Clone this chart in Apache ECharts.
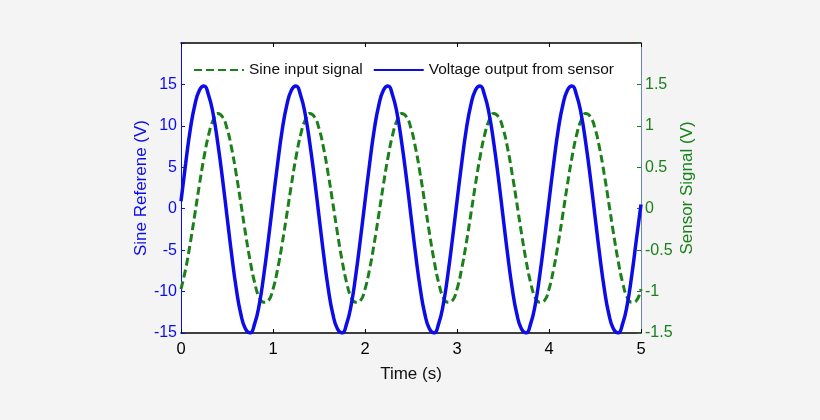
<!DOCTYPE html>
<html><head><meta charset="utf-8">
<script src="https://cdn.jsdelivr.net/npm/echarts@6/dist/echarts.min.js"></script>
<style>html,body{margin:0;padding:0;background:#f4f4f4;}#c{width:820px;height:420px;}</style>
</head><body><div id="c"></div>
<script>
const times = [0,0.05,0.1,0.15,0.2,0.25,0.3,0.35,0.4,0.45,0.5,0.55,0.6,0.65,0.7,0.75,0.8,0.85,0.9,0.95,
1,1.05,1.1,1.15,1.2,1.25,1.3,1.35,1.4,1.45,1.5,1.55,1.6,1.65,1.7,1.75,1.8,1.85,1.9,1.95,
2,2.05,2.1,2.15,2.2,2.25,2.3,2.35,2.4,2.45,2.5,2.55,2.6,2.65,2.7,2.75,2.8,2.85,2.9,2.95,
3,3.05,3.1,3.15,3.2,3.25,3.3,3.35,3.4,3.45,3.5,3.55,3.6,3.65,3.7,3.75,3.8,3.85,3.9,3.95,
4,4.05,4.1,4.15,4.2,4.25,4.3,4.35,4.4,4.45,4.5,4.55,4.6,4.65,4.7,4.75,4.8,4.85,4.9,4.95,5];
const voltageOutput = [
0.9,5.4,9.5,12.5,14.3,14.8,13.7,11.4,7.9,3.7,-0.9,-5.5,-9.6,-12.7,-14.5,-15.0,-13.9,-11.6,-8.0,-3.7,
0.9,5.4,9.5,12.5,14.3,14.8,13.7,11.4,7.9,3.7,-0.9,-5.5,-9.6,-12.7,-14.5,-15.0,-13.9,-11.6,-8.0,-3.7,
0.9,5.4,9.5,12.5,14.3,14.8,13.7,11.4,7.9,3.7,-0.9,-5.5,-9.6,-12.7,-14.5,-15.0,-13.9,-11.6,-8.0,-3.7,
0.9,5.4,9.5,12.5,14.3,14.8,13.7,11.4,7.9,3.7,-0.9,-5.5,-9.6,-12.7,-14.5,-15.0,-13.9,-11.6,-8.0,-3.7,
0.9,5.4,9.5,12.5,14.3,14.8,13.7,11.4,7.9,3.7,-0.9,-5.5,-9.6,-12.7,-14.5,-15.0,-13.9,-11.6,-8.0,-3.7,
0.5];
const sineInput = [
-0.97,-0.73,-0.42,-0.07,0.29,0.62,0.89,1.07,1.15,1.11,0.97,0.73,0.42,0.07,-0.29,-0.62,-0.89,-1.07,-1.13,-1.11,
-0.97,-0.73,-0.42,-0.07,0.29,0.62,0.89,1.07,1.15,1.11,0.97,0.73,0.42,0.07,-0.29,-0.62,-0.89,-1.07,-1.13,-1.11,
-0.97,-0.73,-0.42,-0.07,0.29,0.62,0.89,1.07,1.15,1.11,0.97,0.73,0.42,0.07,-0.29,-0.62,-0.89,-1.07,-1.13,-1.11,
-0.97,-0.73,-0.42,-0.07,0.29,0.62,0.89,1.07,1.15,1.11,0.97,0.73,0.42,0.07,-0.29,-0.62,-0.89,-1.07,-1.13,-1.11,
-0.97,-0.73,-0.42,-0.07,0.29,0.62,0.89,1.07,1.15,1.11,0.97,0.73,0.42,0.07,-0.29,-0.62,-0.89,-1.07,-1.13,-1.11,
-0.97];
const leftTicks = ['-15','-10','-5','0','5','10','15'];
const rightTicks = ['-1.5','-1','-0.5','0','0.5','1','1.5'];

const BLUE = '#0c0ce8', GREEN = '#1a801a';
const FONT = 'Liberation Sans, Arial, sans-serif';
const chart = echarts.init(document.getElementById('c'));
chart.setOption({
  backgroundColor: '#f4f4f4',
  animation: false,
  grid: {left: 181, right: 179, top: 43, bottom: 87, show: true, backgroundColor: '#ffffff', borderWidth: 0},
  legend: {
    left: 188, top: 57, itemWidth: 50, itemHeight: 12, itemGap: 10,
    itemStyle: {opacity: 0},
    textStyle: {fontFamily: FONT, fontSize: 15.5, color: '#111'},
    data: ['Sine input signal', 'Voltage output from sensor']
  },
  xAxis: [{
    type: 'value', min: 0, max: 5, interval: 1, position: 'bottom',
    name: 'Time (s)', nameLocation: 'middle', nameGap: 33,
    nameTextStyle: {fontFamily: FONT, fontSize: 17, color: '#111'},
    axisLine: {onZero: false, lineStyle: {color: '#000', width: 1.5}},
    axisTick: {inside: true, length: 4, lineStyle: {color: '#000'}},
    axisLabel: {fontFamily: FONT, fontSize: 16.5, color: '#000', margin: 8},
    splitLine: {show: false}
  }, {
    type: 'value', min: 0, max: 5, interval: 1, position: 'top',
    axisLine: {onZero: false, lineStyle: {color: '#000', width: 1.5}},
    axisTick: {inside: true, length: 4, lineStyle: {color: '#000'}},
    axisLabel: {show: false}, splitLine: {show: false}
  }],
  yAxis: [{
    type: 'value', min: -15, max: 20, interval: 5, position: 'left',
    name: 'Sine Referene (V)', nameLocation: 'middle', nameGap: 31, nameMoveOverlap: false,
    nameTextStyle: {fontFamily: FONT, fontSize: 17, color: BLUE},
    axisLine: {show: true, onZero: false, lineStyle: {color: BLUE, width: 1}},
    axisTick: {inside: true, length: 4, lineStyle: {color: BLUE}},
    axisLabel: {fontFamily: FONT, fontSize: 16, color: BLUE, margin: 4,
      formatter: v => { const i = Math.round((v + 15) / 5); return leftTicks[i] || ''; }},
    splitLine: {show: false}
  }, {
    type: 'value', min: -1.5, max: 2, interval: 0.5, position: 'right',
    name: 'Sensor Signal (V)', nameLocation: 'middle', nameGap: 38, nameRotate: 90, nameMoveOverlap: false,
    nameTextStyle: {fontFamily: FONT, fontSize: 17, color: GREEN},
    axisLine: {show: true, onZero: false, lineStyle: {color: '#6a86b0', width: 1}},
    axisTick: {inside: true, length: 4, lineStyle: {color: GREEN}},
    axisLabel: {fontFamily: FONT, fontSize: 16, color: GREEN, margin: 4,
      formatter: v => { const i = Math.round((v + 1.5) / 0.5); return rightTicks[i] || ''; }},
    splitLine: {show: false}
  }],
  series: [{
    name: 'Sine input signal', type: 'line', yAxisIndex: 1, xAxisIndex: 0,
    showSymbol: false, symbol: 'none', smooth: true, z: 2,
    lineStyle: {color: GREEN, width: 3, type: [8, 4]},
    itemStyle: {color: GREEN},
    data: times.map((t, i) => [t, sineInput[i]])
  }, {
    name: 'Voltage output from sensor', type: 'line', yAxisIndex: 0, xAxisIndex: 0,
    showSymbol: false, symbol: 'none', smooth: true, z: 3,
    lineStyle: {color: BLUE, width: 3.5},
    itemStyle: {color: BLUE},
    data: times.map((t, i) => [t, voltageOutput[i]])
  }]
});
</script></body></html>
